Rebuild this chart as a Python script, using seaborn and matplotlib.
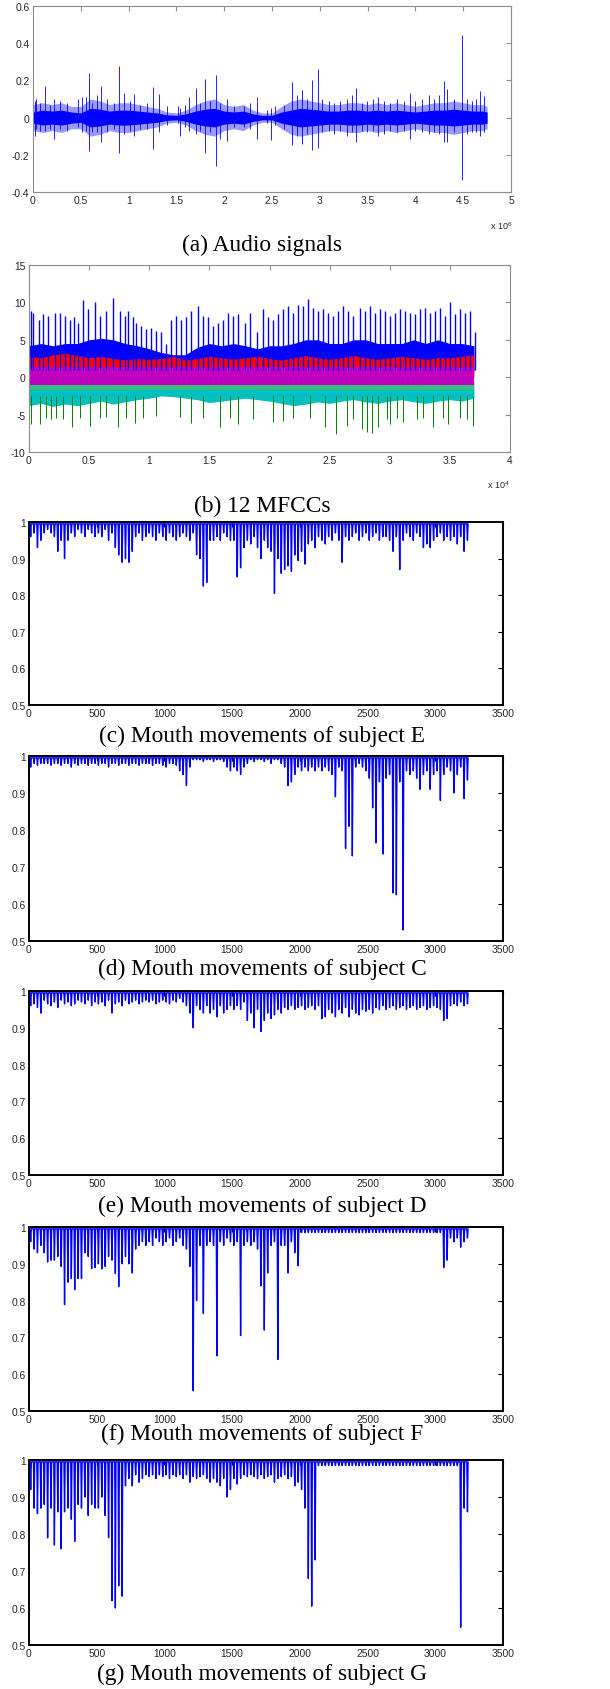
import numpy as np
import pandas as pd
import matplotlib
matplotlib.use("Agg")
import matplotlib.pyplot as plt
import seaborn as sns
from matplotlib.ticker import FuncFormatter

sns.set_style("white")
plt.rcParams['font.family'] = ['Liberation Sans', 'DejaVu Sans']
plt.rcParams['axes.unicode_minus'] = False
plt.rcParams['mathtext.fontset'] = 'custom'
plt.rcParams['mathtext.rm'] = 'Liberation Sans'

# ---------------- (a) audio signal, x in units of 1e6 samples ----------------
audio_x = [0.0, 0.1, 0.2, 0.3, 0.4, 0.5, 0.6, 0.7, 0.8, 0.9, 1.0, 1.1, 1.2, 1.3, 1.4, 1.5,
           1.6, 1.7, 1.8, 1.9, 2.0, 2.1, 2.2, 2.3, 2.4, 2.5, 2.6, 2.7, 2.8, 2.9, 3.0, 3.1,
           3.2, 3.3, 3.4, 3.5, 3.6, 3.7, 3.8, 3.9, 4.0, 4.1, 4.2, 4.3, 4.4, 4.5, 4.6, 4.7, 4.75]
audio_core = [0.03, 0.04, 0.035, 0.04, 0.03, 0.025, 0.05, 0.045, 0.035, 0.04, 0.04, 0.035, 0.03,
              0.025, 0.015, 0.012, 0.02, 0.035, 0.045, 0.05, 0.035, 0.03, 0.035, 0.02, 0.012,
              0.012, 0.03, 0.04, 0.05, 0.045, 0.04, 0.035, 0.035, 0.04, 0.04, 0.035, 0.04, 0.035,
              0.04, 0.035, 0.03, 0.035, 0.04, 0.04, 0.045, 0.04, 0.035, 0.035, 0.03]
audio_outer = [0.07, 0.08, 0.07, 0.08, 0.06, 0.06, 0.1, 0.09, 0.07, 0.08, 0.08, 0.07, 0.06, 0.05,
               0.03, 0.025, 0.04, 0.07, 0.09, 0.1, 0.07, 0.06, 0.07, 0.04, 0.025, 0.025, 0.06,
               0.09, 0.1, 0.09, 0.08, 0.07, 0.07, 0.08, 0.08, 0.07, 0.08, 0.07, 0.08, 0.07, 0.06,
               0.07, 0.08, 0.08, 0.09, 0.08, 0.07, 0.07, 0.06]
spike_x = [0.017, 0.035, 0.070, 0.122, 0.174, 0.216, 0.286, 0.356, 0.471, 0.513, 0.558, 0.586,
           0.617, 0.669, 0.711, 0.774, 0.851, 0.900, 0.955, 1.011, 1.060, 1.116, 1.192, 1.259,
           1.314, 1.402, 1.517, 1.541, 1.593, 1.635, 1.705, 1.750, 1.803, 1.855, 1.918, 1.960,
           2.030, 2.099, 2.204, 2.273, 2.343, 2.448, 2.490, 2.535, 2.622, 2.713, 2.762, 2.814,
           2.866, 2.918, 2.978, 3.023, 3.093, 3.145, 3.215, 3.285, 3.337, 3.382, 3.441, 3.494,
           3.556, 3.609, 3.668, 3.738, 3.808, 3.877, 3.940, 3.999, 4.069, 4.139, 4.191, 4.243,
           4.296, 4.331, 4.401, 4.484, 4.540, 4.593, 4.637, 4.679, 4.721]
spike_hi = [0.09, 0.10, 0.08, 0.17, 0.07, 0.10, 0.09, 0.08, 0.10, 0.11, 0.11, 0.24,
            0.08, 0.12, 0.17, 0.10, 0.08, 0.28, 0.13, 0.09, 0.125, 0.07, 0.08, 0.165,
            0.125, 0.06, 0.06, 0.05, 0.07, 0.11, 0.16, 0.08, 0.205, 0.09, 0.23, 0.08,
            0.10, 0.06, 0.06, 0.08, 0.11, 0.04, 0.05, 0.06, 0.07, 0.19, 0.12, 0.15,
            0.10, 0.20, 0.26, 0.10, 0.09, 0.08, 0.09, 0.10, 0.12, 0.16, 0.08, 0.09,
            0.10, 0.11, 0.09, 0.08, 0.10, 0.09, 0.13, 0.09, 0.10, 0.12, 0.10, 0.12,
            0.195, 0.155, 0.10, 0.445, 0.10, 0.09, 0.10, 0.145, 0.115]
spike_lo = [-0.10, -0.06, -0.07, -0.07, -0.06, -0.115, -0.06, -0.07, -0.05, -0.08, -0.07, -0.182,
            -0.08, -0.08, -0.13, -0.08, -0.06, -0.188, -0.09, -0.07, -0.10, -0.06, -0.06, -0.168,
            -0.08, -0.04, -0.03, -0.10, -0.05, -0.07, -0.09, -0.07, -0.19, -0.08, -0.262, -0.115,
            -0.124, -0.05, -0.05, -0.06, -0.115, -0.03, -0.12, -0.04, -0.06, -0.147, -0.10, -0.14,
            -0.09, -0.172, -0.162, -0.08, -0.07, -0.09, -0.07, -0.10, -0.08, -0.13, -0.07, -0.08,
            -0.07, -0.10, -0.09, -0.07, -0.08, -0.07, -0.115, -0.07, -0.08, -0.09, -0.08, -0.09,
            -0.13, -0.13, -0.08, -0.333, -0.09, -0.08, -0.08, -0.10, -0.08]

# ---------------- (b) 12 MFCCs, x in units of 1e4 frames ----------------
mf_x = [0.0, 0.1, 0.2, 0.3, 0.4, 0.5, 0.6, 0.7, 0.8, 0.9, 1.0, 1.1, 1.2, 1.3, 1.4, 1.5, 1.6,
        1.7, 1.8, 1.9, 2.0, 2.1, 2.2, 2.3, 2.4, 2.5, 2.6, 2.7, 2.8, 2.9, 3.0, 3.1, 3.2, 3.3,
        3.4, 3.5, 3.6, 3.7]
blue_hi = [4.2, 4.5, 4.2, 4.5, 4.5, 5.0, 5.2, 5.0, 4.5, 4.2, 3.8, 3.3, 3.0, 3.0, 4.0, 4.5, 4.2,
           4.5, 4.2, 3.8, 4.2, 4.2, 4.5, 5.0, 5.0, 4.5, 4.5, 5.0, 5.0, 4.5, 4.5, 4.5, 5.0, 4.5,
           5.0, 4.5, 4.5, 4.2]
red_hi = [2.8, 2.6, 3.0, 3.2, 2.9, 2.6, 2.8, 2.5, 2.3, 2.5, 2.4, 2.5, 2.8, 2.3, 2.5, 2.8, 2.6,
          2.4, 2.6, 2.8, 2.5, 2.3, 2.6, 2.9, 2.6, 2.4, 2.6, 2.9, 2.6, 2.4, 2.6, 2.8, 2.6, 2.4,
          2.6, 2.6, 2.8, 3.0]
cyan_lo = [-3.8, -3.5, -3.9, -3.6, -3.8, -3.5, -3.2, -3.6, -3.3, -3.0, -2.8, -2.5, -2.6, -2.8,
           -3.0, -3.4, -3.2, -3.0, -2.8, -3.0, -3.2, -3.5, -3.8, -3.6, -3.3, -3.5, -3.2, -3.0,
           -3.3, -3.5, -3.2, -3.0, -3.3, -3.5, -3.2, -3.0, -3.2, -2.8]
blue_peak_x = [0.014, 0.033, 0.083, 0.117, 0.158, 0.214, 0.255, 0.297, 0.338, 0.372, 0.408,
               0.449, 0.491, 0.546, 0.588, 0.644, 0.699, 0.755, 0.796, 0.824, 0.865, 0.893,
               0.935, 0.976, 1.018, 1.060, 1.101, 1.143, 1.184, 1.226, 1.268, 1.309, 1.351,
               1.406, 1.448, 1.490, 1.531, 1.573, 1.614, 1.656, 1.698, 1.739, 1.795, 1.836,
               1.892, 1.947, 1.989, 2.030, 2.072, 2.114, 2.155, 2.197, 2.239, 2.280, 2.322,
               2.363, 2.405, 2.447, 2.488, 2.530, 2.571, 2.613, 2.655, 2.696, 2.752, 2.793,
               2.835, 2.877, 2.918, 2.960, 3.001, 3.043, 3.085, 3.126, 3.168, 3.209, 3.251,
               3.293, 3.334, 3.376, 3.418, 3.459, 3.501, 3.542, 3.584, 3.626, 3.667, 3.709]
blue_peak = [8.8, 8.6, 7.7, 8.4, 8.2, 8.6, 8.6, 8.2, 7.7, 8.1, 7.3, 10.3, 9.1, 10.0, 8.2, 8.8,
             10.6, 8.8, 8.2, 8.8, 8.0, 7.3, 6.9, 6.4, 6.6, 6.2, 6.0, 4.4, 7.7, 8.2, 7.7, 8.0,
             8.8, 9.5, 8.2, 8.0, 6.9, 7.3, 7.7, 8.6, 8.2, 8.4, 7.3, 8.6, 6.0, 9.1, 8.0, 7.7,
             8.4, 9.1, 9.5, 8.6, 9.7, 9.5, 10.5, 9.3, 8.8, 9.1, 8.6, 8.2, 8.8, 9.5, 8.8, 8.2,
             9.3, 8.8, 9.5, 8.6, 9.1, 8.8, 8.2, 8.6, 9.1, 8.8, 8.6, 8.4, 9.1, 9.3, 8.6, 8.8,
             9.3, 8.2, 10.1, 8.4, 9.1, 8.6, 8.8, 6.0]
green_dip_x = [0.019, 0.089, 0.144, 0.186, 0.227, 0.283, 0.361, 0.422, 0.505, 0.588, 0.644,
               0.741, 0.810, 0.879, 0.949, 1.060, 1.254, 1.351, 1.448, 1.587, 1.670, 1.739,
               1.864, 2.030, 2.114, 2.197, 2.336, 2.460, 2.557, 2.641, 2.696, 2.766, 2.807,
               2.849, 2.904, 2.974, 3.001, 3.057, 3.112, 3.223, 3.279, 3.362, 3.445, 3.487,
               3.584, 3.639, 3.695]
green_dip = [-6.25, -6.25, -5.5, -5.6, -5.5, -5.6, -6.7, -5.4, -6.5, -5.5, -5.3, -6.6, -5.5,
             -6.1, -5.4, -5.2, -5.3, -6.1, -5.4, -6.7, -5.5, -6.25, -5.6, -6.0, -5.9, -5.5,
             -5.4, -6.7, -7.6, -6.5, -5.6, -6.9, -7.3, -7.4, -6.7, -5.6, -6.25, -5.5, -6.0,
             -5.6, -5.4, -6.7, -5.5, -6.25, -5.5, -5.6, -6.5]

# ---------------- (c)-(g) mouth movements: deepest value in each 25-frame bin ----------------
bin_width = 25
depth_E = [0.96, 0.97, 0.93, 0.95, 0.97, 0.98, 0.97, 0.96, 0.92, 0.95,
           0.90, 0.95, 0.97, 0.96, 0.98, 0.97, 0.96, 0.98, 0.97, 0.96,
           0.97, 0.96, 0.98, 0.95, 0.97, 0.93, 0.91, 0.89, 0.90, 0.89,
           0.92, 0.96, 0.97, 0.95, 0.96, 0.97, 0.96, 0.95, 0.97, 0.96,
           0.95, 0.97, 0.96, 0.95, 0.96, 0.97, 0.96, 0.95, 0.97, 0.91,
           0.90, 0.825, 0.835, 0.95, 0.95, 0.96, 0.95, 0.97, 0.96, 0.95,
           0.95, 0.85, 0.875, 0.93, 0.95, 0.94, 0.96, 0.93, 0.90, 0.95,
           0.93, 0.92, 0.805, 0.90, 0.86, 0.87, 0.88, 0.865, 0.91, 0.895,
           0.92, 0.885, 0.94, 0.95, 0.93, 0.96, 0.95, 0.94, 0.96, 0.95,
           0.97, 0.95, 0.89, 0.96, 0.95, 0.96, 0.97, 0.95, 0.96, 0.97,
           0.95, 0.96, 0.97, 0.95, 0.96, 0.96, 0.95, 0.92, 0.96, 0.87,
           0.95, 0.97, 0.96, 0.95, 0.97, 0.96, 0.93, 0.94, 0.93, 0.95,
           0.96, 0.97, 0.95, 0.96, 0.95, 0.96, 0.94, 0.96, 0.92, 0.95]
depth_C = [0.97, 0.98, 0.975, 0.98, 0.98, 0.98, 0.975, 0.98, 0.98, 0.975,
           0.98, 0.98, 0.97, 0.98, 0.975, 0.98, 0.98, 0.975, 0.98, 0.98,
           0.975, 0.98, 0.98, 0.97, 0.98, 0.98, 0.975, 0.98, 0.98, 0.975,
           0.98, 0.98, 0.975, 0.98, 0.98, 0.98, 0.975, 0.98, 0.98, 0.975,
           0.97, 0.98, 0.98, 0.975, 0.96, 0.95, 0.92, 0.97, 0.99, 0.99,
           0.99, 0.985, 0.99, 0.99, 0.985, 0.99, 0.99, 0.985, 0.97, 0.96,
           0.97, 0.96, 0.95, 0.97, 0.98, 0.99, 0.985, 0.99, 0.99, 0.985,
           0.99, 0.98, 0.99, 0.99, 0.98, 0.97, 0.92, 0.93, 0.95, 0.97,
           0.96, 0.97, 0.96, 0.97, 0.96, 0.97, 0.96, 0.97, 0.96, 0.95,
           0.89, 0.97, 0.96, 0.75, 0.81, 0.73, 0.97, 0.98, 0.97, 0.96,
           0.94, 0.86, 0.765, 0.93, 0.735, 0.94, 0.95, 0.63, 0.625, 0.93,
           0.53, 0.96, 0.95, 0.96, 0.94, 0.91, 0.95, 0.96, 0.91, 0.95,
           0.96, 0.88, 0.95, 0.97, 0.96, 0.90, 0.95, 0.97, 0.885, 0.935]
depth_D = [0.96, 0.965, 0.955, 0.94, 0.975, 0.965, 0.96, 0.97, 0.955, 0.975,
           0.965, 0.97, 0.96, 0.965, 0.975, 0.97, 0.965, 0.975, 0.96, 0.97,
           0.965, 0.97, 0.96, 0.975, 0.94, 0.965, 0.97, 0.96, 0.975, 0.965,
           0.97, 0.975, 0.965, 0.97, 0.975, 0.97, 0.975, 0.965, 0.97, 0.975,
           0.97, 0.965, 0.975, 0.97, 0.98, 0.97, 0.96, 0.94, 0.90, 0.96,
           0.95, 0.94, 0.96, 0.94, 0.95, 0.93, 0.96, 0.94, 0.95, 0.96,
           0.95, 0.96, 0.95, 0.97, 0.92, 0.94, 0.90, 0.95, 0.89, 0.92,
           0.94, 0.925, 0.935, 0.95, 0.94, 0.955, 0.95, 0.96, 0.95, 0.955,
           0.96, 0.95, 0.955, 0.96, 0.95, 0.96, 0.925, 0.93, 0.95, 0.94,
           0.93, 0.95, 0.94, 0.955, 0.93, 0.95, 0.94, 0.935, 0.95, 0.945,
           0.95, 0.94, 0.955, 0.95, 0.96, 0.95, 0.955, 0.96, 0.95, 0.955,
           0.96, 0.95, 0.955, 0.96, 0.95, 0.955, 0.96, 0.95, 0.955, 0.96,
           0.955, 0.95, 0.92, 0.925, 0.96, 0.965, 0.96, 0.97, 0.96, 0.965]
depth_F = [0.96, 0.94, 0.93, 0.95, 0.93, 0.905, 0.91, 0.91, 0.92, 0.893,
           0.789, 0.85, 0.86, 0.83, 0.86, 0.86, 0.93, 0.92, 0.887, 0.89,
           0.90, 0.886, 0.893, 0.92, 0.91, 0.874, 0.838, 0.90, 0.92, 0.90,
           0.875, 0.94, 0.95, 0.96, 0.95, 0.96, 0.95, 0.97, 0.96, 0.95,
           0.96, 0.97, 0.95, 0.96, 0.97, 0.95, 0.94, 0.893, 0.555, 0.80,
           0.95, 0.765, 0.95, 0.96, 0.95, 0.65, 0.96, 0.95, 0.97, 0.96,
           0.95, 0.96, 0.705, 0.95, 0.96, 0.95, 0.96, 0.94, 0.84, 0.72,
           0.875, 0.95, 0.96, 0.64, 0.95, 0.95, 0.875, 0.96, 0.93, 0.895,
           0.985, 0.985, 0.985, 0.985, 0.985, 0.985, 0.985, 0.985, 0.985, 0.985,
           0.985, 0.985, 0.985, 0.985, 0.985, 0.985, 0.985, 0.985, 0.985, 0.985,
           0.985, 0.985, 0.985, 0.985, 0.985, 0.985, 0.985, 0.985, 0.985, 0.985,
           0.985, 0.985, 0.985, 0.985, 0.985, 0.985, 0.985, 0.985, 0.985, 0.985,
           0.985, 0.985, 0.89, 0.91, 0.97, 0.96, 0.97, 0.945, 0.96, 0.97]
depth_G = [0.92, 0.87, 0.855, 0.87, 0.88, 0.79, 0.87, 0.77, 0.86, 0.76,
           0.86, 0.87, 0.84, 0.78, 0.88, 0.87, 0.90, 0.85, 0.88, 0.87,
           0.87, 0.90, 0.85, 0.79, 0.62, 0.60, 0.66, 0.632, 0.93, 0.95,
           0.93, 0.96, 0.94, 0.95, 0.96, 0.955, 0.96, 0.95, 0.96, 0.955,
           0.96, 0.95, 0.96, 0.955, 0.96, 0.95, 0.96, 0.94, 0.955, 0.95,
           0.955, 0.96, 0.95, 0.94, 0.95, 0.94, 0.93, 0.95, 0.90, 0.92,
           0.95, 0.935, 0.95, 0.96, 0.955, 0.96, 0.955, 0.95, 0.96, 0.95,
           0.955, 0.96, 0.94, 0.95, 0.955, 0.96, 0.95, 0.955, 0.93, 0.94,
           0.92, 0.87, 0.68, 0.605, 0.73, 0.985, 0.985, 0.985, 0.985, 0.985,
           0.985, 0.985, 0.985, 0.985, 0.985, 0.985, 0.985, 0.985, 0.985, 0.985,
           0.985, 0.985, 0.985, 0.985, 0.985, 0.985, 0.985, 0.985, 0.985, 0.985,
           0.985, 0.985, 0.985, 0.985, 0.985, 0.985, 0.985, 0.985, 0.985, 0.985,
           0.985, 0.985, 0.985, 0.985, 0.985, 0.985, 0.985, 0.548, 0.87, 0.86]

captions = ["(a) Audio signals", "(b) 12 MFCCs",
            "(c) Mouth movements of subject E", "(d) Mouth movements of subject C",
            "(e) Mouth movements of subject D", "(f) Mouth movements of subject F",
            "(g) Mouth movements of subject G"]

W, H = 610, 1690
fig = plt.figure(figsize=(W / 100, H / 100), dpi=100)


def rect(l, r, t, b):
    return [l / W, 1 - b / H, (r - l) / W, (b - t) / H]


fmt = FuncFormatter(lambda v, p: "%g" % round(v, 6))


def style(ax, edge, lw):
    for s in ax.spines.values():
        s.set_color(edge)
        s.set_linewidth(lw)
        s.set_visible(True)
    ax.tick_params(direction="in", top=True, right=True, length=3.5, width=0.8,
                   color=edge, labelsize=7.4, labelcolor="#262626", pad=2.5)
    ax.xaxis.set_major_formatter(fmt)
    ax.yaxis.set_major_formatter(fmt)
    ax.set_xlabel("")
    ax.set_ylabel("")


# (a)
ax = fig.add_axes(rect(33, 511, 7, 193))
ax.fill_between(audio_x, [-v for v in audio_outer], audio_outer, color=(0.6, 0.6, 1.0), lw=0)
ax.fill_between(audio_x, [-v for v in audio_core], audio_core, color="blue", lw=0)
ax.vlines(spike_x, spike_lo, spike_hi, color="blue", lw=0.6)
ax.set_xlim(0, 5)
ax.set_ylim(-0.4, 0.6)
ax.set_xticks(np.arange(0, 5.01, 0.5))
ax.set_yticks(np.arange(-0.4, 0.61, 0.2))
style(ax, "#8c8c8c", 0.8)
ax.text(1.004, -0.18, r"x 10$^{6}$", transform=ax.transAxes, ha="right", va="center",
        fontsize=6.5, color="#262626")

# (b)
ax = fig.add_axes(rect(29, 510, 266, 453))
ax.fill_between(mf_x, 0.8, blue_hi, color="blue", lw=0)
ax.vlines(blue_peak_x, 1.0, blue_peak, color="blue", lw=1.0)
ax.vlines(green_dip_x, -2.5, green_dip, color=(0, 0.5, 0), lw=0.7)
ax.fill_between(mf_x, cyan_lo, -0.6, color=(0, 0.75, 0.75), lw=0)
ax.fill_between(mf_x, 0.0, red_hi, color="red", lw=0)
ax.fill_between(mf_x, -1.7, -0.9, color=(0.75, 0.75, 0), lw=0, alpha=0.3)
ax.fill_between(mf_x, -1.1, 1.3, color=(0.75, 0, 0.75), lw=0)
ax.set_xlim(0, 4)
ax.set_ylim(-10, 15)
ax.set_xticks(np.arange(0, 4.01, 0.5))
ax.set_yticks(np.arange(-10, 15.1, 5))
style(ax, "#8c8c8c", 0.8)
ax.text(1.0, -0.171, r"x 10$^{4}$", transform=ax.transAxes, ha="right", va="center",
        fontsize=6.5, color="#262626")

# (c)-(g): each bin is drawn as one narrow dip from the resting level
mouth = [depth_E, depth_C, depth_D, depth_F, depth_G]
boxes = [(523, 706), (757, 942), (992, 1176), (1228, 1412), (1461, 1646)]
for depth, (t, b) in zip(mouth, boxes):
    ax = fig.add_axes(rect(29, 503, t, b))
    xs, ys = [], []
    for k, d in enumerate(depth):
        x0 = k * bin_width
        xs += [x0, x0 + 8, x0 + 12.5, x0 + 17]
        ys += [0.995, 0.995, d, 0.995]
    df = pd.DataFrame({"frame": xs, "value": ys})
    sns.lineplot(data=df, x="frame", y="value", sort=False, estimator=None,
                 color="blue", lw=1.0, ax=ax)
    ax.set_xlim(0, 3500)
    ax.set_ylim(0.5, 1.0)
    ax.set_xticks(np.arange(0, 3501, 500))
    ax.set_yticks(np.arange(0.5, 1.01, 0.1))
    style(ax, "black", 1.4)

cap_y = [245, 506, 736, 969, 1206, 1434, 1674]
for c, y in zip(captions, cap_y):
    fig.text(262 / W, 1 - y / H, c, ha="center", va="center",
             family="Liberation Serif", fontsize=16.8, color="black")

fig.savefig("out.png", dpi=100)
